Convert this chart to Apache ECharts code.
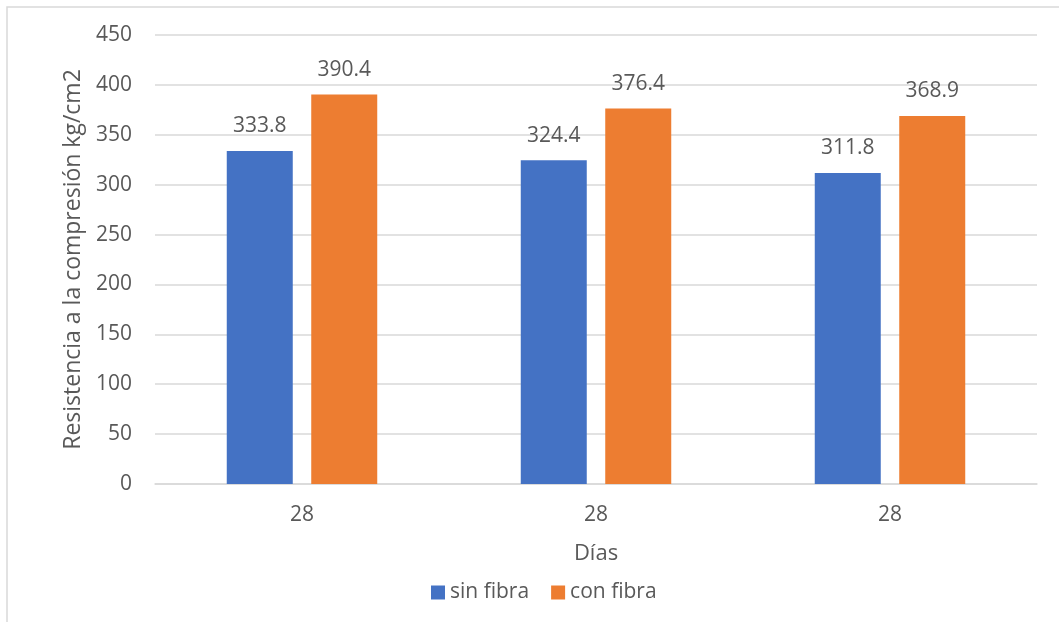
<!DOCTYPE html>
<html>
<head>
<meta charset="utf-8">
<title>Resistencia a la compresión</title>
<script src="https://cdn.jsdelivr.net/npm/echarts@6/dist/echarts.min.js"></script>
<style>
  html, body { margin: 0; padding: 0; background: #ffffff; }
  #chart { width: 1059px; height: 622px; }
</style>
</head>
<body>
<div id="chart"></div>
<script>
// Ages at test (days) for each group of bars
const categories = ['28', '28', '28'];
// Compressive strength, kg/cm2
const sinFibra = [333.8, 324.4, 311.8];
const conFibra = [390.4, 376.4, 368.9];
// Value axis ticks
const yTicks = [0, 50, 100, 150, 200, 250, 300, 350, 400, 450];

const textColor = '#595959';
const gridColor = '#d9d9d9';
const fontFamily = '"Open Sans", "Noto Sans", sans-serif';

const chart = echarts.init(document.getElementById('chart'), null, { renderer: 'canvas' });

const labelStyle = {
  show: true,
  position: 'top',
  distance: 14,
  color: textColor,
  fontSize: 21,
  fontFamily: fontFamily,
  formatter: p => p.value.toFixed(1)
};

chart.setOption({
  animation: false,
  backgroundColor: '#ffffff',
  textStyle: { fontFamily: fontFamily, color: textColor },
  graphic: [{
    type: 'rect',
    silent: true,
    shape: { x: 7, y: 7, width: 1100, height: 700 },
    style: { fill: 'none', stroke: gridColor, lineWidth: 1.5 }
  }],
  grid: { left: 155, right: 22, top: 35, bottom: 138, containLabel: false },
  legend: {
    bottom: 14,
    left: 426,
    itemWidth: 14,
    itemHeight: 14,
    itemGap: 22,
    icon: 'rect',
    textStyle: { color: textColor, fontSize: 21, fontFamily: fontFamily },
    data: ['sin fibra', 'con fibra']
  },
  xAxis: {
    type: 'category',
    data: categories,
    name: 'Días',
    nameLocation: 'middle',
    nameGap: 59,
    nameTextStyle: { color: textColor, fontSize: 22, fontFamily: fontFamily },
    axisLine: { show: true, lineStyle: { color: gridColor, width: 1.5 } },
    axisTick: { show: false },
    axisLabel: { color: textColor, fontSize: 21, fontFamily: fontFamily, margin: 21 }
  },
  yAxis: {
    type: 'value',
    min: yTicks[0],
    max: yTicks[yTicks.length - 1],
    interval: yTicks[1] - yTicks[0],
    name: 'Resistencia a la compresión kg/cm2',
    nameLocation: 'middle',
    nameGap: 70,
    nameTextStyle: { color: textColor, fontSize: 23, fontFamily: fontFamily },
    axisLine: { show: false },
    axisTick: { show: false },
    axisLabel: { color: textColor, fontSize: 21, fontFamily: fontFamily, margin: 23 },
    splitLine: { show: true, lineStyle: { color: gridColor, width: 1.5 } }
  },
  series: [
    {
      name: 'sin fibra',
      type: 'bar',
      data: sinFibra,
      barWidth: 66,
      barGap: '28%',
      itemStyle: { color: '#4472C4' },
      label: labelStyle
    },
    {
      name: 'con fibra',
      type: 'bar',
      data: conFibra,
      barWidth: 66,
      barGap: '28%',
      itemStyle: { color: '#ED7D31' },
      label: labelStyle
    }
  ]
});
</script>
</body>
</html>
